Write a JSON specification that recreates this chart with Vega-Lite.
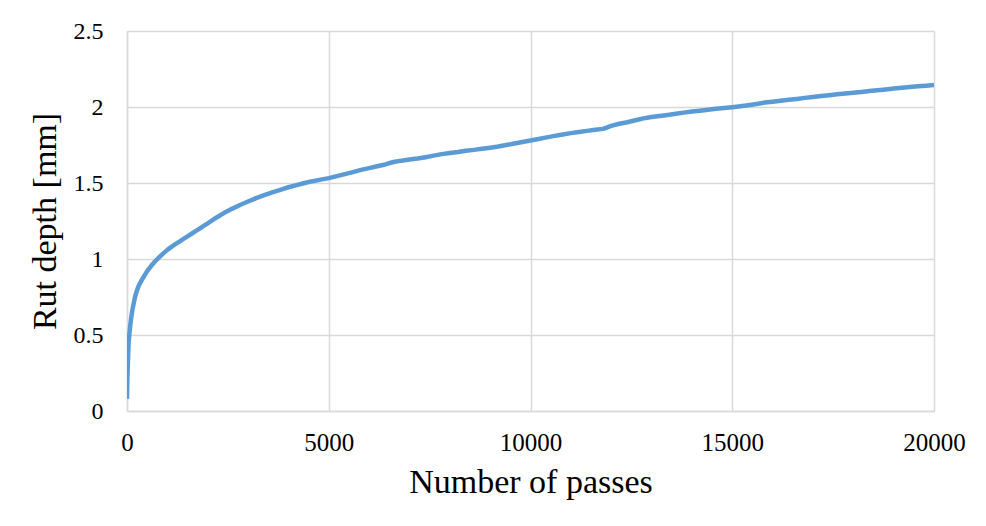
{
  "$schema": "https://vega.github.io/schema/vega-lite/v6.json",
  "width": 807,
  "height": 380,
  "autosize": {"type": "none"},
  "padding": {"left": 127, "top": 31, "right": 52, "bottom": 115},
  "background": "white",
  "config": {
    "view": {"stroke": null},
    "axis": {
      "labelFont": "Liberation Serif",
      "titleFont": "Liberation Serif",
      "labelColor": "#000000",
      "titleColor": "#000000",
      "titleFontWeight": "normal",
      "ticks": false,
      "domainColor": "#d9d9d9",
      "domainWidth": 1.5,
      "gridColor": "#d9d9d9",
      "gridWidth": 1.5
    }
  },
  "data": {
    "values": [
      {"passes": 0, "rut": 0.08},
      {"passes": 5, "rut": 0.15},
      {"passes": 10, "rut": 0.22},
      {"passes": 20, "rut": 0.30},
      {"passes": 30, "rut": 0.38},
      {"passes": 40, "rut": 0.45},
      {"passes": 60, "rut": 0.51},
      {"passes": 80, "rut": 0.56},
      {"passes": 100, "rut": 0.605},
      {"passes": 130, "rut": 0.66},
      {"passes": 160, "rut": 0.70},
      {"passes": 200, "rut": 0.752},
      {"passes": 250, "rut": 0.795},
      {"passes": 300, "rut": 0.83},
      {"passes": 400, "rut": 0.877},
      {"passes": 500, "rut": 0.92},
      {"passes": 600, "rut": 0.955},
      {"passes": 700, "rut": 0.985},
      {"passes": 800, "rut": 1.012},
      {"passes": 900, "rut": 1.037},
      {"passes": 1000, "rut": 1.06},
      {"passes": 1100, "rut": 1.08},
      {"passes": 1200, "rut": 1.098},
      {"passes": 1300, "rut": 1.115},
      {"passes": 1400, "rut": 1.132},
      {"passes": 1500, "rut": 1.149},
      {"passes": 1600, "rut": 1.166},
      {"passes": 1700, "rut": 1.183},
      {"passes": 1800, "rut": 1.20},
      {"passes": 1900, "rut": 1.218},
      {"passes": 2000, "rut": 1.235},
      {"passes": 2200, "rut": 1.27},
      {"passes": 2400, "rut": 1.302},
      {"passes": 2600, "rut": 1.33},
      {"passes": 2800, "rut": 1.355},
      {"passes": 3000, "rut": 1.378},
      {"passes": 3200, "rut": 1.40},
      {"passes": 3400, "rut": 1.42},
      {"passes": 3600, "rut": 1.438},
      {"passes": 3800, "rut": 1.455},
      {"passes": 4000, "rut": 1.472},
      {"passes": 4200, "rut": 1.486},
      {"passes": 4400, "rut": 1.50},
      {"passes": 4600, "rut": 1.512},
      {"passes": 4800, "rut": 1.522},
      {"passes": 5000, "rut": 1.532},
      {"passes": 5200, "rut": 1.545},
      {"passes": 5400, "rut": 1.558},
      {"passes": 5600, "rut": 1.572},
      {"passes": 5800, "rut": 1.586},
      {"passes": 6000, "rut": 1.598},
      {"passes": 6200, "rut": 1.61},
      {"passes": 6400, "rut": 1.622},
      {"passes": 6600, "rut": 1.638},
      {"passes": 6800, "rut": 1.647},
      {"passes": 7000, "rut": 1.654},
      {"passes": 7200, "rut": 1.661},
      {"passes": 7400, "rut": 1.67},
      {"passes": 7600, "rut": 1.68},
      {"passes": 7800, "rut": 1.69},
      {"passes": 8000, "rut": 1.698},
      {"passes": 8200, "rut": 1.704},
      {"passes": 8400, "rut": 1.712},
      {"passes": 8600, "rut": 1.718},
      {"passes": 8800, "rut": 1.725},
      {"passes": 9000, "rut": 1.732},
      {"passes": 9200, "rut": 1.74},
      {"passes": 9400, "rut": 1.75},
      {"passes": 9600, "rut": 1.76},
      {"passes": 9800, "rut": 1.77},
      {"passes": 10000, "rut": 1.78},
      {"passes": 10200, "rut": 1.79},
      {"passes": 10400, "rut": 1.80},
      {"passes": 10600, "rut": 1.81},
      {"passes": 10800, "rut": 1.819},
      {"passes": 11000, "rut": 1.828},
      {"passes": 11200, "rut": 1.836},
      {"passes": 11400, "rut": 1.843},
      {"passes": 11600, "rut": 1.85},
      {"passes": 11800, "rut": 1.856},
      {"passes": 12000, "rut": 1.876},
      {"passes": 12200, "rut": 1.89},
      {"passes": 12400, "rut": 1.90},
      {"passes": 12600, "rut": 1.913},
      {"passes": 12800, "rut": 1.925},
      {"passes": 13000, "rut": 1.934},
      {"passes": 13200, "rut": 1.941},
      {"passes": 13400, "rut": 1.948},
      {"passes": 13600, "rut": 1.956},
      {"passes": 13800, "rut": 1.963},
      {"passes": 14000, "rut": 1.97},
      {"passes": 14200, "rut": 1.976},
      {"passes": 14400, "rut": 1.982},
      {"passes": 14600, "rut": 1.988},
      {"passes": 14800, "rut": 1.993},
      {"passes": 15000, "rut": 1.999},
      {"passes": 15200, "rut": 2.005},
      {"passes": 15400, "rut": 2.012},
      {"passes": 15600, "rut": 2.02},
      {"passes": 15800, "rut": 2.029},
      {"passes": 16000, "rut": 2.035},
      {"passes": 16200, "rut": 2.041},
      {"passes": 16400, "rut": 2.047},
      {"passes": 16600, "rut": 2.053},
      {"passes": 16800, "rut": 2.06},
      {"passes": 17000, "rut": 2.066},
      {"passes": 17200, "rut": 2.072},
      {"passes": 17400, "rut": 2.078},
      {"passes": 17600, "rut": 2.084},
      {"passes": 17800, "rut": 2.089},
      {"passes": 18000, "rut": 2.094},
      {"passes": 18200, "rut": 2.099},
      {"passes": 18400, "rut": 2.105},
      {"passes": 18600, "rut": 2.11},
      {"passes": 18800, "rut": 2.115},
      {"passes": 19000, "rut": 2.121},
      {"passes": 19200, "rut": 2.126},
      {"passes": 19400, "rut": 2.131},
      {"passes": 19600, "rut": 2.136},
      {"passes": 19800, "rut": 2.14},
      {"passes": 20000, "rut": 2.145}
    ]
  },
  "mark": {"type": "line", "color": "#5B9BD5", "strokeWidth": 4.5, "strokeJoin": "round", "strokeCap": "butt", "clip": true},
  "encoding": {
    "x": {
      "field": "passes",
      "type": "quantitative",
      "scale": {"domain": [0, 20000], "nice": false, "zero": true},
      "axis": {
        "values": [0, 5000, 10000, 15000, 20000],
        "format": "d",
        "title": "Number of passes",
        "labelFontSize": 25,
        "labelPadding": 19,
        "titleFontSize": 34,
        "titlePadding": 10,
        "labelFlush": false
      }
    },
    "y": {
      "field": "rut",
      "type": "quantitative",
      "scale": {"domain": [0, 2.5], "nice": false},
      "axis": {
        "values": [0, 0.5, 1, 1.5, 2, 2.5],
        "format": "~g",
        "title": "Rut depth [mm]",
        "labelFontSize": 24,
        "labelPadding": 24,
        "titleFontSize": 34,
        "titlePadding": 11
      }
    }
  }
}
